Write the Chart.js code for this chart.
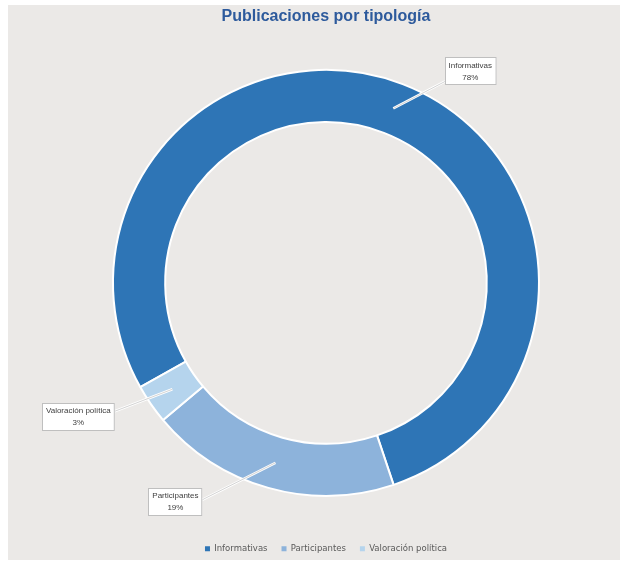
<!DOCTYPE html>
<html>
<head>
<meta charset="utf-8">
<script src="https://cdn.jsdelivr.net/npm/chart.js@4"></script>
<style>
    body { margin: 0; background: #ffffff; overflow: hidden; }
    #wrap { position: absolute; left: 8px; top: 5px; width: 612px; height: 555px; background: #ebe9e7; }
    #donut { position: absolute; left: 0; top: 0; }
</style>
</head>
<body>
<div id="wrap"><canvas id="donut"></canvas></div>
<script>
const categories = ['Informativas', 'Participantes', 'Valoración política'];
const shares = [78, 19, 3];
const colors = ['#2e75b6', '#8db3db', '#b5d4ed'];

// callout box centre relative to the leader line start, plus where the line meets the box
const calloutOffsets = [
    {dx: 77, dy: -37, ey: 10},
    {dx: -100, dy: 39, ey: -2},
    {dx: -94, dy: 28, ey: -6},
];

const calloutPlugin = {
    id: 'callouts',
    afterDatasetsDraw(chart) {
        const ctx = chart.ctx;
        const meta = chart.getDatasetMeta(0);
        ctx.save();
        ctx.font = '8px "Liberation Sans", Arial, sans-serif';
        meta.data.forEach((arc, i) => {
            const p = arc.getProps(['x', 'y', 'startAngle', 'endAngle', 'innerRadius', 'outerRadius'], true);
            const mid = (p.startAngle + p.endAngle) / 2;
            const r = (p.innerRadius + p.outerRadius) / 2;
            const ax = p.x + Math.cos(mid) * r;
            const ay = p.y + Math.sin(mid) * r;

            const line1 = categories[i];
            const line2 = shares[i] + '%';
            const w = Math.max(ctx.measureText(line1).width, ctx.measureText(line2).width) + 8;
            const h = 28;
            const off = calloutOffsets[i];
            const cx = ax + off.dx;
            const cy = ay + off.dy;
            const bx = Math.round(cx - w / 2);
            const by = Math.round(cy - h / 2);

            // leader line to the side of the box facing the ring
            const ex = off.dx > 0 ? bx : bx + w;
            const ey = cy + off.ey;
            ctx.strokeStyle = '#ffffff';
            ctx.lineWidth = 2.5;
            ctx.beginPath();
            ctx.moveTo(ax, ay);
            ctx.lineTo(ex, ey);
            ctx.stroke();
            ctx.strokeStyle = '#c8c8c8';
            ctx.lineWidth = 0.8;
            ctx.beginPath();
            ctx.moveTo(ax, ay);
            ctx.lineTo(ex, ey);
            ctx.stroke();

            ctx.fillStyle = '#ffffff';
            ctx.fillRect(bx, by, w, h);
            ctx.strokeStyle = '#bfbfbf';
            ctx.lineWidth = 1;
            ctx.strokeRect(bx + 0.5, by + 0.5, w - 1, h - 1);

            ctx.fillStyle = '#404040';
            ctx.textAlign = 'center';
            ctx.textBaseline = 'middle';
            ctx.fillText(line1, cx, cy - 6);
            ctx.fillText(line2, cx, cy + 6);
        });
        ctx.restore();
    }
};

const donutData = {
    labels: categories,
    datasets: [{
        data: shares,
        backgroundColor: colors,
        borderColor: '#ffffff',
        borderWidth: 2,
    }],
};

const donutConfig = {
    type: 'doughnut',
    data: donutData,
    options: {
        responsive: false,
        animation: false,
        cutout: '75.5%',
        rotation: 240.7,
        layout: {
            padding: {left: 104, right: 80, top: 0, bottom: 0}
        },
        plugins: {
            title: {
                display: true,
                text: 'Publicaciones por tipología',
                color: '#2d5a9c',
                font: {family: '"Liberation Sans", Arial, sans-serif', size: 16, weight: 'bold'},
                padding: {top: 2, bottom: 9},
            },
            legend: {
                position: 'bottom',
                labels: {
                    color: '#595959',
                    font: {family: '"DejaVu Sans", sans-serif', size: 8.5},
                    boxWidth: 5,
                    boxHeight: 5,
                    padding: 14,
                    generateLabels(chart) {
                        const items = Chart.overrides.doughnut.plugins.legend.labels.generateLabels(chart);
                        return items.map(item => ({...item, lineWidth: 0}));
                    }
                }
            },
            tooltip: {enabled: false}
        }
    },
    plugins: [calloutPlugin],
};

const canvas = document.getElementById('donut');
canvas.width = 612;
canvas.height = 558;
const donutChart = new Chart(canvas, donutConfig);
</script>
</body>
</html>
